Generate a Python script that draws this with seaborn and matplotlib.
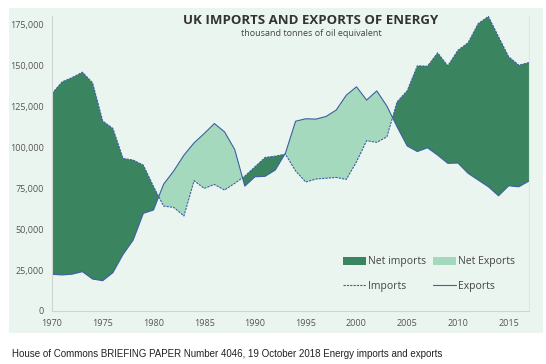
import numpy as np
import pandas as pd
import seaborn as sns
import matplotlib.pyplot as plt
from matplotlib.patches import Rectangle, Patch
from matplotlib.lines import Line2D

sns.set_style("white")
plt.rcParams['font.family'] = ['Open Sans', 'DejaVu Sans']

# thousand tonnes of oil equivalent
years = list(range(1970, 2018))
imports = [132700, 139800, 142500, 145700, 139200, 115900, 111400, 93100, 92100, 89000,
           76000, 64000, 63200, 58000, 79500, 74800, 77200, 73800, 77900, 82300,
           88000, 93700, 94500, 95700, 85500, 78700, 80500, 81000, 81500, 80300,
           91000, 103900, 102900, 106300, 127600, 134400, 149600, 149400, 157500, 149600,
           159100, 163700, 175400, 179700, 167300, 155100, 150000, 151600]
exports = [22400, 22000, 22500, 24000, 19500, 18500, 23400, 34500, 43300, 59600,
           61600, 77400, 85500, 95100, 102600, 108300, 114400, 109300, 98600, 76200,
           81900, 82200, 86000, 96300, 115800, 117300, 117100, 118700, 122600, 131700,
           136800, 128700, 134300, 125000, 112400, 100700, 97300, 99600, 95100, 90100,
           90300, 84000, 79900, 75800, 70300, 76400, 75800, 79300]

df = pd.DataFrame({"year": years, "Imports": imports, "Exports": exports})

dark = "#3a8460"
light = "#a5d9bd"
blue = "#3d5fa3"
bg = "#ebf5f0"

fig = plt.figure(figsize=(5.46, 3.64), dpi=100)
fig.patch.set_facecolor("white")
fig.patches.append(Rectangle((9 / 546, 1 - 333 / 364), 534 / 546, 325 / 364,
                             transform=fig.transFigure, facecolor=bg, edgecolor="none", zorder=-10))

ax = fig.add_axes([52 / 546, 1 - 311 / 364, 477 / 546, 295 / 364])
ax.set_facecolor("none")

x = df["year"].values
imp = df["Imports"].values
exp = df["Exports"].values
ax.fill_between(x, exp, imp, where=imp >= exp, interpolate=True, color=dark, lw=0)
ax.fill_between(x, exp, imp, where=imp <= exp, interpolate=True, color=light, lw=0)

sns.lineplot(data=df, x="year", y="Imports", ax=ax, color=blue, lw=0.8, linestyle=(0, (2, 1)))
sns.lineplot(data=df, x="year", y="Exports", ax=ax, color=blue, lw=0.8)

ax.set_xlim(1970, 2017)
ax.set_ylim(0, 180000)
ax.set_yticks(np.arange(0, 175001, 25000))
ax.set_yticklabels([f"{v:,}" for v in range(0, 175001, 25000)])
ax.set_xticks(range(1970, 2016, 5))
ax.set_xticks(range(1970, 2018), minor=True)
ax.set_xlabel("")
ax.set_ylabel("")

ax.spines["top"].set_visible(False)
for s in ["left", "bottom", "right"]:
    ax.spines[s].set_color("#cfd6d2")
    ax.spines[s].set_linewidth(0.8)
ax.spines["right"].set_color("#dde8e2")
ax.tick_params(axis="y", length=3, width=0.6, color="#bbbbbb", labelsize=6.5,
               labelcolor="#555555", pad=3)
ax.tick_params(axis="x", which="both", direction="inout", length=4, width=0.6,
               color="#bbbbbb", labelsize=6.5, labelcolor="#555555", pad=4)

fig.text(311 / 546, 1 - 20 / 364, "UK IMPORTS AND EXPORTS OF ENERGY", ha="center", va="center",
         fontsize=9.5, fontweight="bold", color="#333333")
fig.text(311 / 546, 1 - 34 / 364, "thousand tonnes of oil equivalent", ha="center", va="center",
         fontsize=6.5, color="#444444")

# column-wise fill: row 1 = Net imports / Net Exports, row 2 = Imports / Exports
handles = [Patch(facecolor=dark, edgecolor="none"),
           Line2D([], [], color=blue, lw=0.8, linestyle=(0, (2, 1))),
           Patch(facecolor=light, edgecolor="none"),
           Line2D([], [], color=blue, lw=0.8)]
labels = ["Net imports", "Imports", "Net Exports", "Exports"]
leg = ax.legend(handles, labels, ncol=2, loc="center", bbox_to_anchor=(0.79, 0.125),
                frameon=False, fontsize=7.5, handlelength=2.2, handleheight=0.8,
                handletextpad=0.2, columnspacing=0.7, labelspacing=1.3)
for t in leg.get_texts():
    t.set_color("#444444")

fig.text(12 / 546, 1 - 354 / 364,
         "House of Commons BRIEFING PAPER Number 4046, 19 October 2018 Energy imports and exports",
         ha="left", va="center", fontsize=7, family=["Liberation Sans", "DejaVu Sans"], color="#222222")

fig.savefig("out.png", dpi=100)
